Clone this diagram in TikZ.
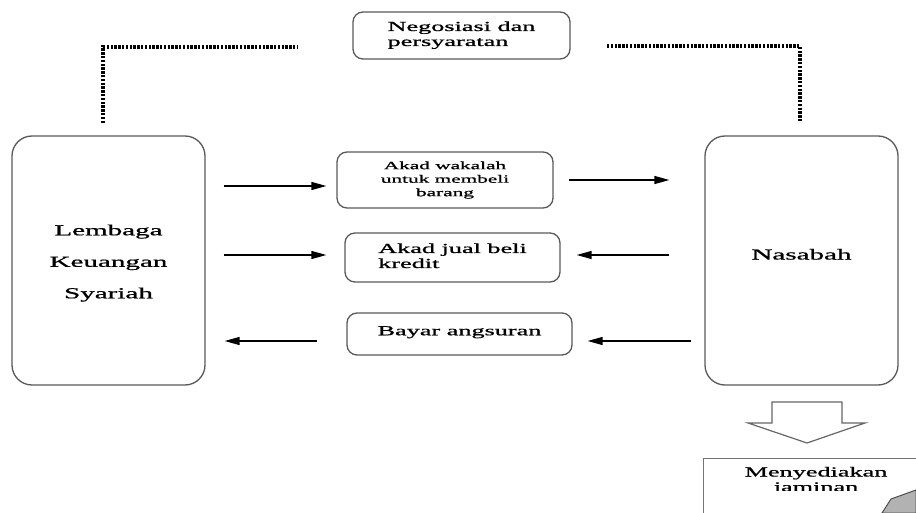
\documentclass[tikz,border=0pt]{standalone}
\usepackage{fontspec}
\setmainfont{Liberation Serif}[FakeBold=0.8]
\usetikzlibrary{arrows.meta}
\newcommand{\sx}[1]{\scalebox{1.9}[1]{#1}}
\begin{document}
\begin{tikzpicture}[x=1pt,y=-1pt,
  bigbox/.style={draw=black!65, line width=1.3pt, rounded corners=20pt, inner sep=0pt,
    minimum width=193pt, minimum height=249pt, text=black},
  smallbox/.style={draw=black!65, line width=1.3pt, rounded corners=10pt, inner sep=0pt, text=black},
  arr/.style={line width=1.4pt, -{Triangle[length=15pt,width=8pt]}},
  dotline/.style={line width=3.2pt, dash pattern=on 2.4pt off 1.4pt},
  bigfont/.style={font=\fontsize{15.3}{31.5}\selectfont},
  midfont/.style={font=\fontsize{13.8}{15}\selectfont},
  smallfont/.style={font=\fontsize{11.2}{13.5}\selectfont}
]
\useasboundingbox (0,0) rectangle (916,513);
\clip (0,0) rectangle (916,513);

% main boxes
\node[bigbox, bigfont] (L) at (108.5,260.5)
  {\raisebox{5pt}{\sx{\begin{tabular}{@{}c@{}}Lembaga\\Keuangan\\Syariah\end{tabular}}}};
\node[bigbox, bigfont] (R) at (801.5,260.5)
  {\raisebox{12.5pt}{\sx{Nasabah}}};

% top box
\node[smallbox, midfont, minimum width=217pt, minimum height=47pt] (N) at (461.5,35.5)
  {\sx{\begin{tabular}{@{}l@{}}Negosiasi dan\\persyaratan\end{tabular}}\hspace{19pt}};

% middle boxes
\node[smallbox, smallfont, minimum width=216pt, minimum height=56pt] (W) at (445,180)
  {\sx{\begin{tabular}{@{}c@{}}Akad wakalah\\untuk membeli\\barang\end{tabular}}};
\node[smallbox, midfont, minimum width=215pt, minimum height=49pt] (J) at (452.5,257.5)
  {\raisebox{2pt}{\sx{\begin{tabular}{@{}l@{}}Akad jual beli\\kredit\end{tabular}}}\hspace{11pt}};
\node[smallbox, midfont, minimum width=225pt, minimum height=42pt] (B) at (459.5,334)
  {\raisebox{6.5pt}{\sx{Bayar angsuran}}\hspace{16pt}};

% dotted connectors
\coordinate (dl1) at (103,123);
\coordinate (dl2) at (103,47);
\coordinate (dl3) at (297,47);
\coordinate (dr1) at (607,46);
\coordinate (dr2) at (800,46);
\coordinate (dr3) at (800,122);
\draw[dotline] (dl1) -- (dl2) -- (dl3);
\draw[dotline] (dr1) -- (dr2) -- (dr3);

% arrows
\draw[arr, shorten <=18pt, shorten >=10pt] (L.east |- 0,186) -- (W.west |- 0,186);
\draw[arr, shorten <=15pt, shorten >=35pt] (W.east |- 0,180) -- (R.west |- 0,180);
\draw[arr, shorten <=18pt, shorten >=18pt] (L.east |- 0,255) -- (J.west |- 0,255);
\draw[arr, shorten <=35pt, shorten >=16pt] (R.west |- 0,255) -- (J.east |- 0,255);
\draw[arr, shorten <=29pt, shorten >=19pt] (B.west |- 0,341) -- (L.east |- 0,341);
\draw[arr, shorten <=13pt, shorten >=15pt] (R.west |- 0,341) -- (B.east |- 0,341);

% block arrow
\draw[draw=black!60, line width=1.2pt, fill=white]
  (772,402) -- (842,402) -- (842,423) -- (865,423) -- (807,443) -- (748,423) -- (772,423) -- cycle;

% bottom box
\node[draw=black!55, line width=1pt, minimum width=240pt, minimum height=100pt,
  anchor=north west, inner sep=0pt] (M) at (703,458) {};
\begin{scope}
  \clip (703,458) rectangle (916,490);
  \node[midfont, text=black, inner sep=0pt] (Mt) at (816,481)
    {\sx{\begin{tabular}{@{}c@{}}Menyediakan\\jaminan\end{tabular}}};
\end{scope}
\draw[draw=black!70, line width=1pt, fill=black!30]
  (882,513) -- (891,499) -- (916,490) -- (916,513) -- cycle;
\end{tikzpicture}
\end{document}
